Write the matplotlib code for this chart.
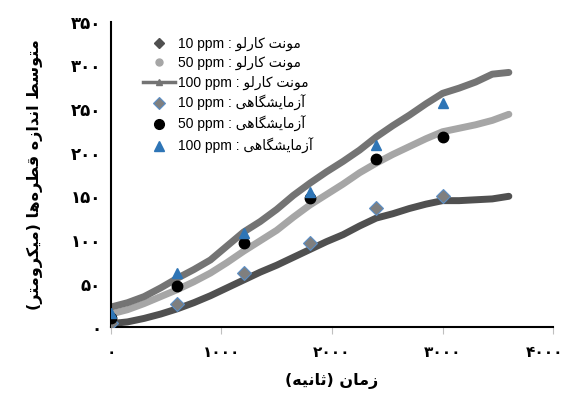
import matplotlib
matplotlib.use('Agg')
import matplotlib.pyplot as plt
import matplotlib.transforms as mtransforms
from matplotlib.lines import Line2D

# Monte Carlo curves (time in s, mean droplet size in micron)
t_mc = [0, 150, 300, 450, 600, 750, 900, 1050, 1200, 1350, 1500, 1650, 1800,
        1950, 2100, 2250, 2400, 2550, 2700, 2850, 3000, 3150, 3300, 3450, 3600]
mc_10 = [4, 6, 10, 15, 21, 28, 36, 45, 54, 63, 71, 80, 89,
         98, 106, 116, 125, 130, 136, 141, 145, 145, 146, 147, 150]
mc_50 = [15, 20, 27, 35, 43, 52, 62, 74, 87, 99, 111, 126, 140,
         152, 164, 177, 188, 198, 207, 216, 224, 228, 232, 237, 244]
mc_100 = [23, 28, 35, 45, 56, 66, 77, 93, 109, 121, 135, 151, 165,
          178, 190, 203, 218, 231, 243, 256, 268, 274, 281, 290, 292]

# experimental points
t_exp = [0, 600, 1200, 1800, 2400, 3000]
exp_10 = [5, 26, 62, 96, 137, 150]
exp_50 = [11, 47, 96, 148, 193, 218]
exp_100 = [16, 62, 108, 155, 209, 257]

x_ticks = [0, 1000, 2000, 3000, 4000]
y_ticks = [0, 50, 100, 150, 200, 250, 300, 350]

# matplotlib has no arabic shaping, so do the joining by hand
FORMS = {
    '\u0622': (0xFE81, 0xFE82),
    '\u0627': (0xFE8D, 0xFE8E),
    '\u062A': (0xFE95, 0xFE96, 0xFE97, 0xFE98),
    '\u062B': (0xFE99, 0xFE9A, 0xFE9B, 0xFE9C),
    '\u062F': (0xFEA9, 0xFEAA),
    '\u0631': (0xFEAD, 0xFEAE),
    '\u0632': (0xFEAF, 0xFEB0),
    '\u0633': (0xFEB1, 0xFEB2, 0xFEB3, 0xFEB4),
    '\u0634': (0xFEB5, 0xFEB6, 0xFEB7, 0xFEB8),
    '\u0637': (0xFEC1, 0xFEC2, 0xFEC3, 0xFEC4),
    '\u0642': (0xFED5, 0xFED6, 0xFED7, 0xFED8),
    '\u0644': (0xFEDD, 0xFEDE, 0xFEDF, 0xFEE0),
    '\u0645': (0xFEE1, 0xFEE2, 0xFEE3, 0xFEE4),
    '\u0646': (0xFEE5, 0xFEE6, 0xFEE7, 0xFEE8),
    '\u0647': (0xFEE9, 0xFEEA, 0xFEEB, 0xFEEC),
    '\u0648': (0xFEED, 0xFEEE),
    '\u06A9': (0xFB8E, 0xFB8F, 0xFB90, 0xFB91),
    '\u06AF': (0xFB92, 0xFB93, 0xFB94, 0xFB95),
    '\u06CC': (0xFBFC, 0xFBFD, 0xFBFE, 0xFBFF),
}


def rtl(s):
    out = []
    for i, c in enumerate(s):
        if c not in FORMS:
            out.append(c)
            continue
        f = FORMS[c]
        prev = s[i - 1] if i > 0 else ''
        nxt = s[i + 1] if i + 1 < len(s) else ''
        jp = prev in FORMS and len(FORMS[prev]) == 4
        jn = len(f) == 4 and nxt in FORMS
        if jp and jn:
            g = f[3]
        elif jp:
            g = f[1]
        elif jn:
            g = f[2]
        else:
            g = f[0]
        out.append(chr(g))
    out = [c for c in out if c != '\u200c']
    mirror = {'(': ')', ')': '('}
    return ''.join(mirror.get(c, c) for c in reversed(out))


def fa(n):
    return str(n).translate(str.maketrans('0123456789', '۰۱۲۳۴۵۶۷۸۹'))


fig = plt.figure(figsize=(5.69, 3.97), dpi=100)
ax = fig.add_axes([0.195, 0.176, 0.777, 0.769])

c10, c50, c100 = '#505050', '#a6a6a6', '#747474'
blue = '#2e75b6'

ax.plot(t_mc, mc_10, color=c10, lw=5, solid_capstyle='round', zorder=2)
ax.plot(t_mc, mc_50, color=c50, lw=5, solid_capstyle='round', zorder=2)
ax.plot(t_mc, mc_100, color=c100, lw=5, solid_capstyle='round', zorder=2)

ax.plot(t_exp, exp_10, ls='none', marker='D', ms=7, mfc='#7f7f7f', mec='#5b8fc7', mew=0.8, zorder=3)
ax.plot(t_exp, exp_50, ls='none', marker='o', ms=7.5, mfc='black', mec='black', zorder=3)
ax.plot(t_exp, exp_100, ls='none', marker='^', ms=6.5, mfc=blue, mec=blue, zorder=4)

ax.set_xlim(0, 4000)
ax.set_ylim(0, 350)
ax.tick_params(axis='x', length=5, color='#bfbfbf', pad=8)
ax.tick_params(axis='y', length=0, pad=7)
ax.set_xticks(x_ticks)
ax.set_xticklabels([fa(v) for v in x_ticks], fontweight='bold', fontsize=11)
ax.set_yticks(y_ticks)
ax.set_yticklabels([fa(v) for v in y_ticks], fontweight='bold', fontsize=12)
# last x label is pulled inside the figure like in the original
last = ax.get_xticklabels()[-1]
last.set_transform(last.get_transform() + mtransforms.ScaledTranslation(-9 / 100, 0, fig.dpi_scale_trans))

for side in ['top', 'right']:
    ax.spines[side].set_visible(False)
for side in ['left', 'bottom']:
    ax.spines[side].set_linewidth(1.5)
    ax.spines[side].set_color('black')

ax.set_xlabel(rtl('زمان (ثانیه)'), fontweight='bold', fontsize=11.5, labelpad=9)
ax.set_ylabel(rtl('متوسط اندازه قطره\u200cها (میکرومتر)'), fontweight='bold', fontsize=11.5, labelpad=20)

mc = rtl('مونت کارلو')
lab = rtl('آزمایشگاهی')
handles = [
    Line2D([], [], ls='none', marker='D', ms=5, color=c10),
    Line2D([], [], ls='none', marker='o', ms=5, color=c50),
    Line2D([], [], color=c100, lw=2.5, marker='^', ms=5),
    Line2D([], [], ls='none', marker='D', ms=6, mfc='#7f7f7f', mec='#5b8fc7', mew=0.8),
    Line2D([], [], ls='none', marker='o', ms=7, color='black'),
    Line2D([], [], ls='none', marker='^', ms=6.5, color=blue),
]
labels = ['10 ppm : ' + mc, '50 ppm : ' + mc, '100 ppm : ' + mc,
          '10 ppm : ' + lab, '50 ppm : ' + lab, '100 ppm : ' + lab]
ax.legend(handles, labels, loc='upper left', bbox_to_anchor=(0.072, 0.952),
          frameon=False, borderpad=0, borderaxespad=0, handlelength=2.3,
          handletextpad=0.2, labelspacing=0.38,
          prop={'family': ['Liberation Sans', 'DejaVu Sans'], 'size': 10})

fig.savefig('out.png', dpi=100)
